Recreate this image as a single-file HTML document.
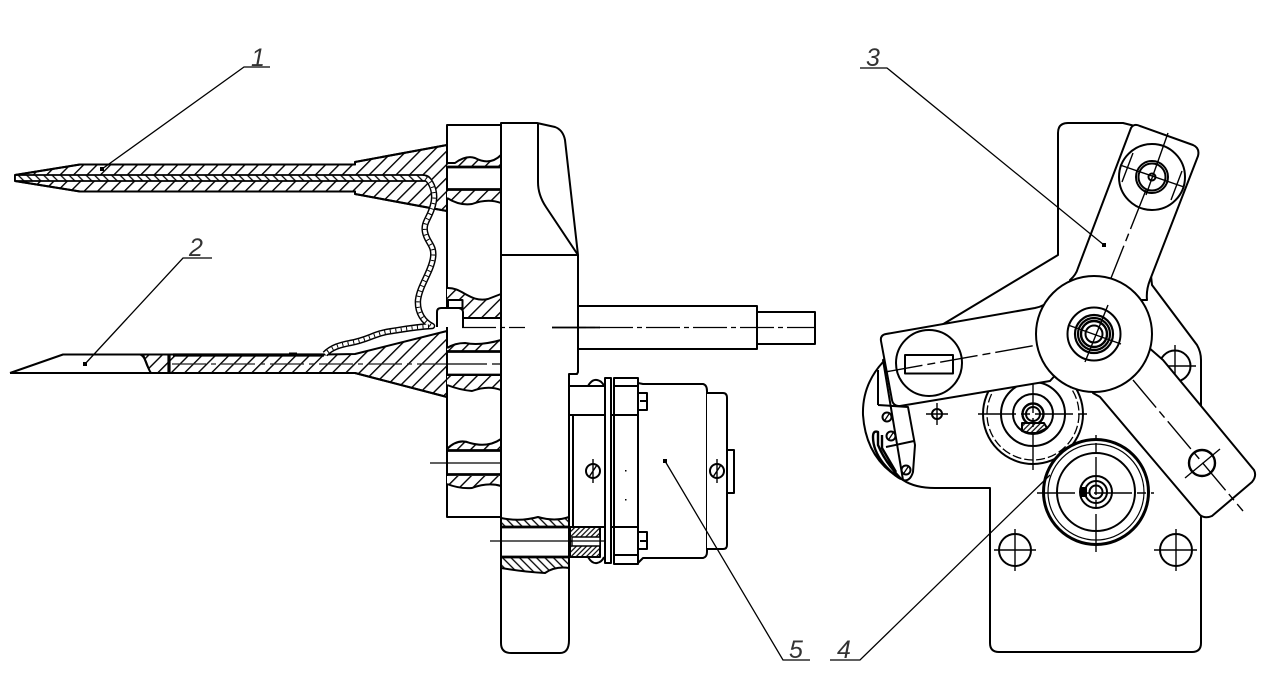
<!DOCTYPE html>
<html><head><meta charset="utf-8"><style>html,body{margin:0;padding:0;background:#fff}svg{display:block}text{font-family:"Liberation Sans",sans-serif;font-style:italic;font-size:25px;fill:#333}</style></head><body>
<svg width="1278" height="700" viewBox="0 0 1278 700" xmlns="http://www.w3.org/2000/svg">
<defs>
<pattern id="h" width="9.5" height="9.5" patternUnits="userSpaceOnUse" patternTransform="rotate(45)"><rect width="9.5" height="9.5" fill="#fff"/><line x1="4.7" y1="0" x2="4.7" y2="9.5" stroke="#000" stroke-width="1.4"/></pattern>
<pattern id="r" width="6" height="6" patternUnits="userSpaceOnUse" patternTransform="rotate(-45)"><rect width="6" height="6" fill="#fff"/><line x1="3" y1="0" x2="3" y2="6" stroke="#000" stroke-width="1.3"/></pattern>
<pattern id="f" width="3.6" height="3.6" patternUnits="userSpaceOnUse" patternTransform="rotate(45)"><rect width="3.6" height="3.6" fill="#fff"/><line x1="1.8" y1="0" x2="1.8" y2="3.6" stroke="#000" stroke-width="1.2"/></pattern>
</defs>
<g fill="none" stroke="#000" stroke-width="2" stroke-linejoin="round">
<!-- upper blade -->
<path fill="url(#h)" d="M15 175L80 164.5H355V162L447 145V211L430 208L355 194V191.5H80L15 181Z"/>
<path fill="url(#r)" stroke-width="1.8" d="M15 175H422Q429 175 431 180L425 181H15Z"/>
<path d="M15 175L80 164.5H355V162L447 145M15 181L80 191.5H355V194L447 211"/>
<!-- lower blade -->
<path fill="url(#h)" d="M143 354.5H325L355 354L447 331V397L355 373H150L143 354.5Z"/>
<path fill="#fff" stroke="none" d="M10 373L63 354.5H140L150 373Z"/>
<path d="M10 373H355L447 397M10 373L63 354.5H325"/>
<path d="M140 354.5C146 356 147 368 151 373"/>
<path stroke-width="3.2" d="M169 354V373M173 355H324"/>
<path stroke-width="3" d="M289 354H297"/>
<path stroke="#222" stroke-width="1.2" stroke-dasharray="34 5 5 5" d="M172 364H447"/>
<!-- wire -->
<g fill="none">
<path stroke="#000" stroke-width="6.5" d="M426 178C433 183 436 195 433 205C430 218 423 222 425 232C427 243 435 245 433 258C431 272 420 285 418 300C417 313 424 322 432 326C415 327 405 329 392 331C375 333 368 340 350 343C340 345 332 347 325 354"/>
<path stroke="#fff" stroke-width="3.6" d="M426 178C433 183 436 195 433 205C430 218 423 222 425 232C427 243 435 245 433 258C431 272 420 285 418 300C417 313 424 322 432 326C415 327 405 329 392 331C375 333 368 340 350 343C340 345 332 347 325 354"/>
<path stroke="#000" stroke-width="3.6" stroke-dasharray="1 4.500" d="M426 178C433 183 436 195 433 205C430 218 423 222 425 232C427 243 435 245 433 258C431 272 420 285 418 300C417 313 424 322 432 326C415 327 405 329 392 331C375 333 368 340 350 343C340 345 332 347 325 354"/>
</g>
<!-- flange -->
<path d="M447 125H501V517H447Z"/>
<path fill="url(#h)" stroke="none" d="M447 164L455 164Q466 155 475 158Q490 166 501 155V167H447Z"/>
<path d="M447 163L455 163Q466 155 475 158Q490 166 501 155"/>
<path fill="url(#h)" stroke="none" d="M447 190H501V203Q488 198 472 204Q460 206 447 198Z"/>
<path d="M447 198Q460 206 472 204Q488 198 501 203"/>
<path stroke-width="2.8" d="M447 167H501M447 189.5H501"/>
<path fill="url(#h)" stroke="none" d="M447 288C462 287 470 303 488 299L501 294V318H447Z"/>
<path d="M447 288C462 287 470 303 488 299L501 294M463 318H501"/>
<path fill="url(#h)" stroke="none" d="M447 348Q455 343 465 343Q480 346 501 340V351H447Z"/>
<path d="M447 348Q455 343 465 343Q480 346 501 340"/>
<path stroke-width="2.8" d="M447 351.5H501M447 375H501"/>
<path fill="url(#h)" stroke="none" d="M447 376H501V390Q488 385 472 391Q460 390 447 385Z"/>
<path d="M447 385Q460 390 472 391Q488 385 501 390"/>
<path fill="url(#h)" stroke="none" d="M447 449Q458 438 470 443Q488 448 501 439V450H447Z"/>
<path d="M447 449Q458 438 470 443Q488 448 501 439"/>
<path stroke-width="2.8" d="M447 450.5H501M447 474.5H501"/>
<path fill="url(#h)" stroke="none" d="M447 476H501V486Q488 482 472 488Q460 489 447 484Z"/>
<path d="M447 484Q460 489 472 488Q488 482 501 486"/>
<path stroke-width="1.2" d="M430 463H515"/>
<path stroke-width="1.2" stroke-dasharray="40 5 8 5" d="M447 364H520"/>
<!-- pin -->
<path fill="#fff" d="M448 300H462.500V308H448ZM437 327V312Q437 308 441 308H459Q463 309 463 312V327"/>
<!-- plate -->
<path fill="#fff" d="M501 123H537L555 127Q563 130 565 140L578 255V372L577 374H569V640Q569 653 560 653H511Q501 653 501 643Z"/>
<path d="M501 255H578M538 123V182Q538 195 546 207L578 255"/>
<path fill="url(#r)" d="M501 518Q520 522 538 517Q555 522 569 517V527H501Z"/>
<path fill="url(#r)" d="M501 557H569V568Q555 566 545 573Q525 572 501 568Z"/>
<path stroke-width="2.8" d="M501 527H569M501 557H569"/>
<!-- shaft -->
<path d="M578 306H757V349H578M757 312H815V344H757"/>
<path stroke-width="1.3" stroke-dasharray="34 4 5 4" d="M462 327.500H525M552 327.500H816"/>
<path d="M552 327.500H600" stroke-width="1.800"/>
<!-- motor -->
<path fill="#fff" d="M569 386H606V415H569Z"/>
<path d="M569 415V557M573 415V527M569 415H638M569 527H638"/>
<path fill="#fff" d="M605 378H611V563H605ZM614 378H638V564H614Z"/>
<path d="M614 386H638M614 415H638M614 527H638M614 555H638"/>
<path fill="#fff" d="M638 383L643 384H703Q707 385 707 391V552Q707 557 703 558H643L638 563Z"/>
<path fill="#fff" d="M707 393H723Q727 393 727 398V545Q727 549 723 549H707M727 450H734V493H727"/>
<path d="M639 393H647V410H639M640 401H646M639 532H647V549H639M640 541H646"/>
<path d="M588 386Q592 379 597 380Q602 381 604 386M588 557Q592 564 597 563Q602 562 604 557"/>
<circle cx="593" cy="471" r="7"/><circle cx="717" cy="471" r="7"/>
<path stroke-width="1.4" d="M593 459V483M717 459V483M589 477L597 465M713 477L721 465"/>
<path fill="url(#f)" d="M570 527H600V557H570Z"/>
<path fill="#fff" stroke-width="1.4" d="M572 537H600V546H572Z"/>
<path stroke-width="1.2" d="M490 541H605"/>
<rect x="625" y="470" width="1.500" height="1.500" fill="#000" stroke="none"/><rect x="625" y="499" width="1.500" height="1.500" fill="#000" stroke="none"/>

<!-- right plate -->
<path fill="#fff" d="M1058 133Q1058 123 1068 123H1123L1135 126L1152 285L1197 345Q1201 352 1201 360V643Q1201 652 1192 652H999Q990 652 990 643V488H935Q915 488 903 480L883 360L945 323L1058 255Z"/>
<!-- left arc -->
<path d="M883 362Q862 385 863 415Q866 460 903 480"/>
<path d="M878 405V370M878 405L908 407L915 445L913 472Q910 482 903 480M886 447L914 441"/>
<path stroke-width="2.4" d="M901 479Q885 462 878 445V432Q873 430 873 437Q873 450 883 463Q892 474 901 479M882 435V448L896 472"/>
<circle cx="887" cy="417" r="4.500"/><circle cx="891" cy="436" r="4.500"/><circle cx="906" cy="470" r="4.500"/>
<path stroke-width="1.3" d="M885 420L889 414M889 439L893 433M904 473L908 467"/>
<!-- small holes -->
<circle cx="1015" cy="550" r="16"/><path stroke-width="1.4" d="M994 550H1036M1015 529V571"/>
<circle cx="1176" cy="550" r="16"/><path stroke-width="1.4" d="M1154 550H1197M1176 529V571"/>
<circle cx="1175" cy="366" r="15.500"/><path stroke-width="1.4" d="M1153 366H1196M1175 345V387"/>
<circle cx="937" cy="414" r="5"/><path stroke-width="1.4" d="M926 414H948M937 403V425"/>
<!-- gear 1 -->
<circle cx="1033" cy="414" r="50" fill="#fff"/>
<circle cx="1033" cy="414" r="46" stroke-width="1.3" stroke-dasharray="9 3"/>
<circle cx="1033" cy="414" r="32"/><circle cx="1033" cy="414" r="20"/><circle cx="1033" cy="414" r="10.500" stroke-width="2.400"/><circle cx="1033" cy="414" r="7"/>
<path fill="url(#f)" d="M1022 423H1044L1047 428L1037 433H1029L1022 431Z"/>
<path stroke-width="1.4" stroke-dasharray="38 5 9 5" d="M978 414H1090M1033 470V358"/>
<!-- gear 2 -->
<circle cx="1096" cy="492" r="52.500" fill="#fff" stroke-width="3"/>
<circle cx="1096" cy="492" r="48" stroke-width="1.200"/>
<circle cx="1096" cy="492" r="39"/><circle cx="1096" cy="492" r="16"/><circle cx="1096" cy="492" r="11"/><circle cx="1096" cy="492" r="6.500"/>
<rect x="1081" y="487" width="6" height="10" fill="#000" stroke="none"/>
<path stroke-width="1.4" stroke-dasharray="38 5 9 5" d="M1037 493H1154M1096 552V435"/>
<!-- arm lower right -->
<path fill="#fff" d="M1093 393L1100 397L1200 515Q1205 519 1212 516L1252 482Q1257 476 1254 470L1163 360L1140 340L1100 360Z"/>
<circle cx="1202" cy="463" r="13" stroke-width="2.400"/>
<path stroke-width="1.4" d="M1185 478L1220 449"/>
<path stroke-width="1.4" stroke-dasharray="36 5 8 5" d="M1133 380L1243 511"/>
<!-- arm up -->
<path fill="#fff" d="M1131 128Q1134 123 1140 126L1193 145Q1200 148 1198 156L1150 280Q1146 290 1147 300L1100 300L1070 280Q1076 275 1078 268Z"/>
<circle cx="1152" cy="177" r="33"/>
<circle cx="1152" cy="177" r="16"/><circle cx="1152" cy="177" r="13.500"/><circle cx="1152" cy="177" r="3.500"/>
<path stroke-width="1.4" d="M1120 165L1184 187M1133 153L1122 182M1182 171L1171 200M1168 133L1146 195"/>
<path stroke-width="1.4" stroke-dasharray="42 5 8 5" d="M1146 190L1092 326"/>
<!-- arm left -->
<path fill="#fff" d="M881 341Q880 335 886 334L1035 308Q1045 306 1050 300L1060 370L1050 381L900 406Q893 406 892 400Z"/>
<circle cx="929" cy="363" r="33"/>
<rect x="905" y="355" width="48" height="18.500"/>
<path stroke-width="1.4" stroke-dasharray="38 5 8 5" d="M885 372L1037 345"/>
<!-- hub -->
<circle cx="1094" cy="334" r="58" fill="#fff"/>
<circle cx="1094" cy="334" r="26.500"/>
<circle cx="1094" cy="334" r="19" stroke-width="2.200"/><circle cx="1094" cy="334" r="16" stroke-width="2.200"/><circle cx="1094" cy="334" r="13" stroke-width="2.400"/><circle cx="1094" cy="334" r="8.500"/>
<path stroke-width="1.4" d="M1068 325L1121 344M1108 305L1085 362"/>
</g>
<!-- leaders -->
<g fill="none" stroke="#000" stroke-width="1.300">
<path d="M102 169L244 67H270"/>
<path d="M85 364L183 258H212"/>
<path d="M1104 245L887 68H860"/>
<path d="M665 461L783 660H810"/>
<path d="M1050 475L860 660H830"/>
</g>
<g fill="#000"><rect x="100" y="167" width="4" height="4"/><rect x="83" y="362" width="4" height="4"/><rect x="1102" y="243" width="4" height="4"/><rect x="663" y="459" width="4" height="4"/></g>
<text x="251" y="66">1</text>
<text x="189" y="256">2</text>
<text x="866" y="66">3</text>
<text x="837" y="658">4</text>
<text x="789" y="658">5</text>
</svg>
</body></html>
